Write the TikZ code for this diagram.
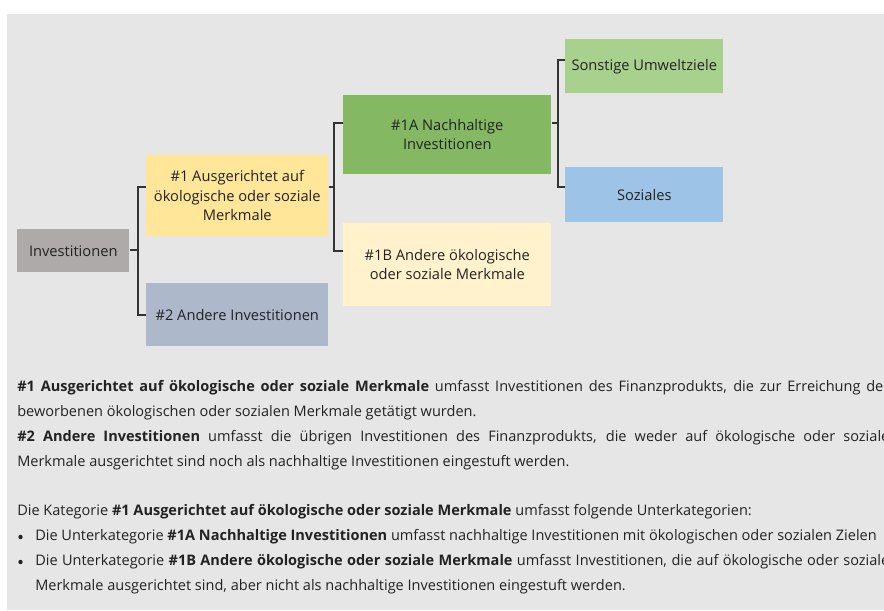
\documentclass[tikz,border=0pt]{standalone}
\usepackage{fontspec}
\setmainfont{Open Sans}
\definecolor{bg}{HTML}{E6E6E6}
\definecolor{txt}{HTML}{222222}
\definecolor{line}{HTML}{333333}
\definecolor{cinv}{HTML}{AEAAAA}
\definecolor{cone}{HTML}{FFE699}
\definecolor{ctwo}{HTML}{ADB9CA}
\definecolor{conea}{HTML}{84B862}
\definecolor{coneb}{HTML}{FFF2CC}
\definecolor{cumw}{HTML}{A9D18E}
\definecolor{csoz}{HTML}{9DC3E6}
\begin{document}
\begin{tikzpicture}[x=0.75pt,y=-0.75pt,
  box/.style={anchor=north west, inner sep=2pt, align=center, text=txt,
    font=\fontsize{11}{14.5}\selectfont},
  sz/.style 2 args={minimum width=#1*0.75pt, minimum height=#2*0.75pt},
  conn/.style={draw=line, line width=0.8pt},
  body/.style={anchor=west, inner sep=0pt, text=txt,
    font=\fontsize{10.9}{13}\selectfont},
  bul/.style={circle, fill=txt, inner sep=0pt, minimum size=3.3pt}]
\useasboundingbox (0,0) rectangle (884,610);
\fill[white] (0,0) rectangle (884,610);
\fill[bg] (7,14) rectangle (884,610);
\clip (0,0) rectangle (884,610);
% boxes
\node[box, sz={112}{43}, fill=cinv] (inv) at (17,229) {Investitionen};
\node[box, sz={182}{81}, fill=cone] (n1) at (146,155) {\#1 Ausgerichtet auf\\ökologische oder soziale\\Merkmale};
\node[box, sz={182}{63}, fill=ctwo] (n2) at (146,283) {\#2 Andere Investitionen};
\node[box, sz={208}{79}, fill=conea] (n1a) at (343,95) {\#1A Nachhaltige\\Investitionen};
\node[box, sz={208}{83}, fill=coneb] (n1b) at (343,223) {\#1B Andere ökologische\\oder soziale Merkmale};
\node[box, sz={158}{54}, fill=cumw] (umw) at (565,39) {Sonstige Umweltziele};
\node[box, sz={158}{55}, fill=csoz] (soz) at (565,167) {Soziales};
% connectors
\coordinate (j1) at (138,250);
\coordinate (j2) at (334,187);
\coordinate (j3) at (558,123);
\draw[conn] (inv.east |- j1) -- (j1);
\draw[conn] (n1.west |- 0,187) -| (j1) |- (n2.west |- 0,315);
\draw[conn] (n1.east |- j2) -- (j2);
\draw[conn] (n1a.west |- 0,123) -| (j2) |- (n1b.west |- 0,251);
\draw[conn] (n1a.east |- j3) -- (j3);
\draw[conn] (umw.west |- 0,60) -| (j3) |- (soz.west |- 0,187);
% body text
\node[body] (t1) at (17,388) {\hbox to 654pt{\textbf{\#1 Ausgerichtet auf ökologische oder soziale Merkmale} umfasst Investitionen des Finanzprodukts, die zur Erreichung der}};
\node[body] (t2) at (17,413) {beworbenen ökologischen oder sozialen Merkmale getätigt wurden.};
\node[body] (t3) at (17,438) {\hbox to 654pt{\textbf{\#2 Andere Investitionen} umfasst die übrigen Investitionen des Finanzprodukts, die weder auf ökologische oder soziale}};
\node[body] (t4) at (17,463) {Merkmale ausgerichtet sind noch als nachhaltige Investitionen eingestuft werden.};
\node[body] (t5) at (17,512) {Die Kategorie \textbf{\#1 Ausgerichtet auf ökologische oder soziale Merkmale} umfasst folgende Unterkategorien:};
\node[bul] (b1) at (20.5,537) {};
\node[body] (t6) at (35,537) {Die Unterkategorie \textbf{\#1A Nachhaltige Investitionen} umfasst nachhaltige Investitionen mit ökologischen oder sozialen Zielen};
\node[bul] (b2) at (20.5,562) {};
\node[body] (t7) at (35,562) {\hbox to 640.5pt{Die Unterkategorie \textbf{\#1B Andere ökologische oder soziale Merkmale} umfasst Investitionen, die auf ökologische oder soziale}};
\node[body] (t8) at (35,587) {Merkmale ausgerichtet sind, aber nicht als nachhaltige Investitionen eingestuft werden.};
\end{tikzpicture}
\end{document}
